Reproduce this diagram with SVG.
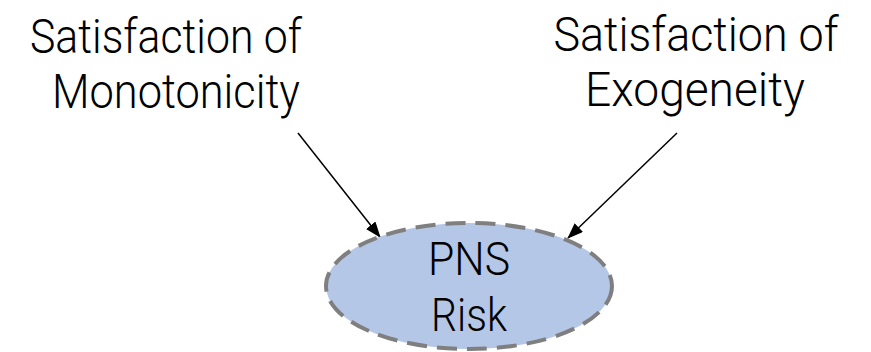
<svg xmlns="http://www.w3.org/2000/svg" width="871" height="352" viewBox="0 0 871 352">
<style>
.t{font-family:Roboto,"Liberation Sans",sans-serif;font-weight:300;font-size:49px;fill:#000;text-anchor:middle}
.s{font-size:46px}
.c{stroke:#000;stroke-width:1.5;fill:none}
</style>
<defs>
<marker id="ah" markerWidth="16" markerHeight="12" refX="15" refY="6" orient="auto" markerUnits="userSpaceOnUse" viewBox="0 0 16 12">
<path d="M0,0 L16,6 L0,12 z" fill="#000"/>
</marker>
</defs>
<rect width="871" height="352" fill="#fff"/>
<g id="connectors">
<line class="c" x1="298" y1="133" x2="380" y2="237" marker-end="url(#ah)"/>
<line class="c" x1="677" y1="133" x2="568" y2="238" marker-end="url(#ah)"/>
</g>
<g id="mono">
<text class="t" x="166" y="53" textLength="272" lengthAdjust="spacingAndGlyphs">Satisfaction of</text>
<text class="t" x="176" y="108" textLength="248" lengthAdjust="spacingAndGlyphs">Monotonicity</text>
</g>
<g id="exo">
<text class="t" x="696" y="51" textLength="285" lengthAdjust="spacingAndGlyphs">Satisfaction of</text>
<text class="t" x="695" y="106" textLength="220" lengthAdjust="spacingAndGlyphs">Exogeneity</text>
</g>
<g id="pns">
<ellipse cx="469" cy="286" rx="143" ry="63" fill="#b4c7e7" stroke="#7f7f7f" stroke-width="4" stroke-dasharray="20 10"/>
<text class="t s" x="469" y="275" textLength="82" lengthAdjust="spacingAndGlyphs">PNS</text>
<text class="t s" x="469" y="331" textLength="76" lengthAdjust="spacingAndGlyphs">Risk</text>
</g>
</svg>
